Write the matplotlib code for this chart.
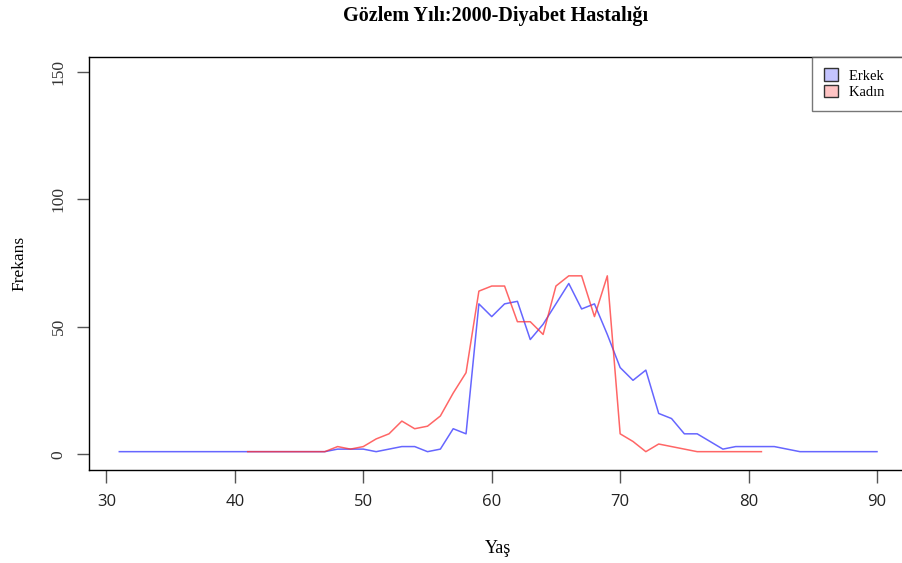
import numpy as np
import matplotlib
matplotlib.use("Agg")
import matplotlib.pyplot as plt
from matplotlib.patches import Patch

plt.rcParams['font.family'] = ['Liberation Serif', 'DejaVu Serif']

# Erkek (erkek hastalar), yas 31-90
yas_erkek = np.arange(31, 91)
erkek = [1]*17 + [2, 2, 2, 1, 2, 3, 3, 1, 2, 10, 8, 59, 54, 59, 60, 45, 51, 59, 67, 57,
                  59, 47, 34, 29, 33, 16, 14, 8, 8, 5, 2, 3, 3, 3, 3, 2, 1, 1, 1, 1, 1, 1, 1]

# Kadin, yas 41-81
yas_kadin = np.arange(41, 82)
kadin = [1]*7 + [3, 2, 3, 6, 8, 13, 10, 11, 15, 24, 32, 64, 66, 66, 52, 52, 47, 66, 70, 70,
                 54, 70, 8, 5, 1, 4, 3, 2, 1, 1, 1, 1, 1, 1]

xticks = [30, 40, 50, 60, 70, 80, 90]
yticks = [0, 50, 100, 150]

fig = plt.figure(figsize=(9.02, 5.63), dpi=100)
ax = fig.add_axes([89/902, 93.5/563, (907.3-89)/902, (469.5-56.7)/563])

ax.plot(yas_erkek, erkek, color=(0.2, 0.2, 1.0), alpha=0.75, lw=1.1)
ax.plot(yas_kadin, kadin, color=(1.0, 0.2, 0.2), alpha=0.75, lw=1.1)

ax.set_xlim(28.64, 92.36)
ax.set_ylim(-6, 156)
ax.set_xticks(xticks)
ax.set_yticks(yticks)
ax.set_xticklabels([str(v) for v in xticks], family=['Open Sans', 'DejaVu Sans'], fontsize=12, color='#222222')
ax.set_yticklabels([str(v) for v in yticks], rotation=90, va='center', fontsize=12.5, color='#333333')
ax.tick_params(axis='both', direction='out', length=9, width=1, color='#555555')
ax.tick_params(axis='x', pad=9)
ax.tick_params(axis='y', pad=7)
for s in ax.spines.values():
    s.set_linewidth(1)
    s.set_color('black')

ax.set_xlabel('Yaş', fontsize=13, labelpad=21)
ax.set_ylabel('Frekans', fontsize=12.5, labelpad=17)
fig.text(496/902, 1 - 16/563, 'Gözlem Yılı:2000-Diyabet Hastalığı', ha='center', va='center',
         fontsize=14.5, fontweight='bold')

handles = [Patch(facecolor='#c4c4ff', edgecolor='#333333', label='Erkek   '),
           Patch(facecolor='#ffc4c4', edgecolor='#333333', label='Kadın   ')]
leg = ax.legend(handles=handles, loc='upper right', bbox_to_anchor=(1.0, 1.0), borderaxespad=0,
                fontsize=10.5, fancybox=False, frameon=True, handlelength=0.95, handleheight=0.95,
                handletextpad=0.8, labelspacing=0.15, borderpad=0.8)
leg.get_frame().set_edgecolor('#555555')
leg.get_frame().set_linewidth(1)

fig.savefig('out.png', dpi=100)
